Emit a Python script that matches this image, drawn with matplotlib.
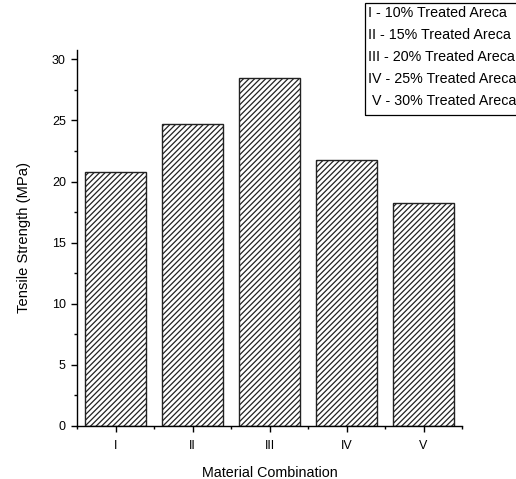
import matplotlib
matplotlib.use("Agg")
import matplotlib.pyplot as plt
from matplotlib.patches import Rectangle
from matplotlib.ticker import MultipleLocator, FixedLocator

categories = ["I", "II", "III", "IV", "V"]
tensile_strength = [20.8, 24.7, 28.5, 21.75, 18.2]
legend_entries = ["I - 10% Treated Areca", "II - 15% Treated Areca",
                  "III - 20% Treated Areca", "IV - 25% Treated Areca",
                  " V - 30% Treated Areca"]

plt.rcParams['font.family'] = ['Liberation Sans', 'DejaVu Sans']
plt.rcParams['hatch.linewidth'] = 0.9

fig = plt.figure(figsize=(5.16, 4.79), dpi=100)
ax = fig.add_axes([77/516, 1-425.7/479, (462-77)/516, (425.7-50)/479])

x = list(range(len(categories)))
ax.bar(x, tensile_strength, width=0.8, color='white', edgecolor='#222222',
       linewidth=1.0, hatch='//////')

ax.set_xlim(-0.5, 4.5)
ax.set_ylim(0, 30.77)
ax.set_xticks(x)
ax.set_xticklabels(categories)
ax.xaxis.set_minor_locator(FixedLocator([-0.5, 0.5, 1.5, 2.5, 3.5, 4.5]))
ax.yaxis.set_major_locator(MultipleLocator(5))
ax.yaxis.set_minor_locator(MultipleLocator(2.5))

for s in ['top', 'right']:
    ax.spines[s].set_visible(False)
for s in ['left', 'bottom']:
    ax.spines[s].set_linewidth(1.0)

ax.tick_params(which='major', length=4.5, width=1.0, labelsize=9, direction='out')
ax.tick_params(which='minor', length=2.5, width=1.0, direction='out')
ax.tick_params(axis='x', which='major', pad=6)

ax.set_xlabel("Material Combination", fontsize=10.3, labelpad=10)
ax.set_ylabel("Tensile Strength (MPa)", fontsize=10.6, labelpad=15)

# legend-style text box
fig.patches.append(Rectangle((365/516, 1-115/479), (530-365)/516, (115-3)/479,
                             transform=fig.transFigure, fill=False,
                             edgecolor='black', linewidth=0.9))
ys = [13, 35, 57, 79, 101]
for txt, yy in zip(legend_entries, ys):
    fig.text(368/516, 1-yy/479, txt, fontsize=10.3, va='center', ha='left')

fig.savefig("out.png", dpi=100)
